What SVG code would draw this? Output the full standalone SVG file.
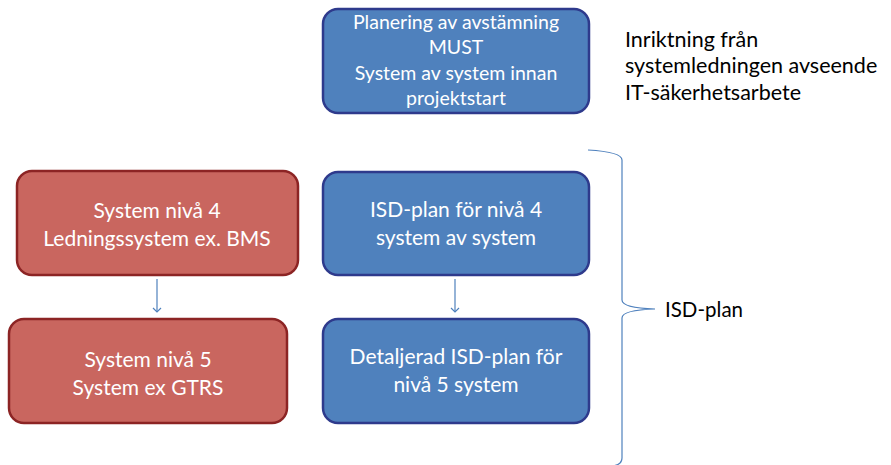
<svg xmlns="http://www.w3.org/2000/svg" width="891" height="465" viewBox="0 0 891 465">
<defs>
<style>
.blue{fill:#4F81BD;stroke:#2E3A8C;stroke-width:2.5}
.red{fill:#C9665F;stroke:#8C2424;stroke-width:2.5}
.t{font-family:Lato,"Open Sans","Liberation Sans",sans-serif;fill:#fff;text-anchor:middle}
.s18{font-size:19.5px}
.s20{font-size:21px}
.k{font-family:Lato,"Open Sans","Liberation Sans",sans-serif;fill:#000;font-size:21.5px}
.c{stroke:#4F81BD;stroke-width:1.2;fill:none}
</style>
<marker id="ah" markerWidth="10" markerHeight="10" refX="5" refY="5" orient="auto" markerUnits="userSpaceOnUse">
<path d="M1,1 L5,5 L1,9" fill="none" stroke="#4F81BD" stroke-width="1.2"/>
</marker>
</defs>
<rect width="891" height="465" fill="#fff"/>
<g id="top">
<rect class="blue" x="323" y="9" width="266" height="104" rx="15"/>
<text class="t s18" x="456" y="29">Planering av avstämning</text>
<text class="t s18" x="456" y="54">MUST</text>
<text class="t s18" x="456" y="80">System av system innan</text>
<text class="t s18" x="456" y="105">projektstart</text>
</g>
<g id="note">
<text class="k" x="625" y="47">Inriktning från</text>
<text class="k" x="625" y="73">systemledningen avseende</text>
<text class="k" x="625" y="100">IT-säkerhetsarbete</text>
</g>
<g id="red4">
<rect class="red" x="17" y="171" width="281" height="104" rx="15"/>
<text class="t s20" x="157" y="218">System nivå 4</text>
<text class="t s20" x="157" y="246">Ledningssystem ex. BMS</text>
</g>
<g id="red5">
<rect class="red" x="9" y="319" width="278" height="104" rx="15"/>
<text class="t s20" x="148" y="367">System nivå 5</text>
<text class="t s20" x="148" y="395">System ex GTRS</text>
</g>
<g id="isd4">
<rect class="blue" x="323" y="172" width="266" height="103" rx="15"/>
<text class="t s20" x="456" y="217">ISD-plan för nivå 4</text>
<text class="t s20" x="456" y="245">system av system</text>
</g>
<g id="isd5">
<rect class="blue" x="323" y="319" width="266" height="104" rx="15"/>
<text class="t s20" x="456" y="364">Detaljerad ISD-plan för</text>
<text class="t s20" x="456" y="392">nivå 5 system</text>
</g>
<g id="brace">
<path class="c" d="M588,150 Q622,152 622,160 L622,300 Q622,308 655,309 Q622,310 622,318 L622,458 Q622,465 612,466"/>
<text class="k" x="665" y="317" style="font-size:20.5px">ISD-plan</text>
</g>
<g id="connectors">
<line class="c" x1="157" y1="279" x2="157" y2="312" marker-end="url(#ah)"/>
<line class="c" x1="455" y1="279" x2="455" y2="312" marker-end="url(#ah)"/>
</g>
</svg>
